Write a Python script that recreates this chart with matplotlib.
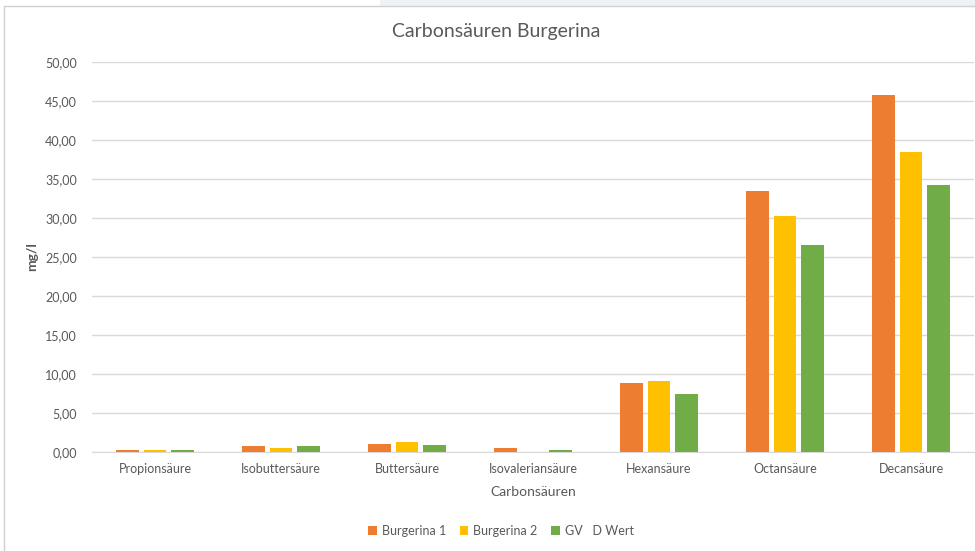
import numpy as np
import matplotlib.pyplot as plt
from matplotlib.patches import Rectangle

categories = ["Propionsäure", "Isobuttersäure", "Buttersäure", "Isovaleriansäure",
              "Hexansäure", "Octansäure", "Decansäure"]
burgerina1 = [0.30, 0.75, 1.05, 0.45, 8.8, 33.5, 45.8]
burgerina2 = [0.30, 0.50, 1.30, 0.00, 9.1, 30.2, 38.4]
gv_d_wert = [0.30, 0.75, 0.85, 0.25, 7.4, 26.6, 34.2]

series = [("Burgerina 1", burgerina1, "#ED7D31"),
          ("Burgerina 2", burgerina2, "#FFC000"),
          ("GV   D Wert", gv_d_wert, "#70AD47")]

plt.rcParams['font.family'] = ['Lato', 'DejaVu Sans']
txt = "#595959"

fig = plt.figure(figsize=(9.75, 5.51), dpi=100)
# screenshot frame
fig.patches.append(Rectangle((380 / 975, 1 - 6 / 551), 1, 6 / 551, transform=fig.transFigure,
                             facecolor="#eef2f5", edgecolor="none"))
fig.patches.append(Rectangle((4 / 975, -0.01), 1, 1 - 6 / 551 + 0.01, transform=fig.transFigure,
                             facecolor="none", edgecolor="#d0d0d0", lw=1))

ax = fig.add_axes([92 / 975, 1 - 452 / 551, 882 / 975, 390 / 551])
x = np.arange(len(categories))
step = 0.218
width = 0.18
for i, (name, vals, col) in enumerate(series):
    ax.bar(x + (i - 1) * step, vals, width, color=col, label=name, zorder=3)

ax.set_xlim(-0.5, len(categories) - 0.5)
ax.set_ylim(0, 50)
ax.set_yticks(np.arange(0, 51, 5))
ax.set_yticklabels([f"{v:.2f}".replace(".", ",") for v in np.arange(0, 51, 5)])
ax.set_xticks(x)
ax.set_xticklabels(categories)
ax.tick_params(colors=txt, labelsize=9, length=0)
ax.tick_params(axis="x", pad=8)
ax.tick_params(axis="y", pad=11)
ax.grid(axis="y", color="#d9d9d9", lw=1, zorder=0)
for s in ["top", "right", "left"]:
    ax.spines[s].set_visible(False)
ax.spines["bottom"].set_color("#d9d9d9")

ax.set_xlabel("Carbonsäuren", color=txt, fontsize=10, labelpad=8)
ax.set_ylabel("mg/l", color=txt, fontsize=10, fontweight="bold")
ax.yaxis.set_label_coords((38 - 92) / 882, 0.5)
fig.text(496 / 975, 1 - 32 / 551, "Carbonsäuren Burgerina", ha="center", va="center",
         color=txt, fontsize=14)

leg = fig.legend(loc="center", bbox_to_anchor=(501 / 975, 1 - 531 / 551), ncol=3, frameon=False,
                 fontsize=9, handlelength=0.7, handleheight=0.7, handletextpad=0.4,
                 columnspacing=1.1)
for t in leg.get_texts():
    t.set_color(txt)

fig.savefig("out.png", dpi=100)
